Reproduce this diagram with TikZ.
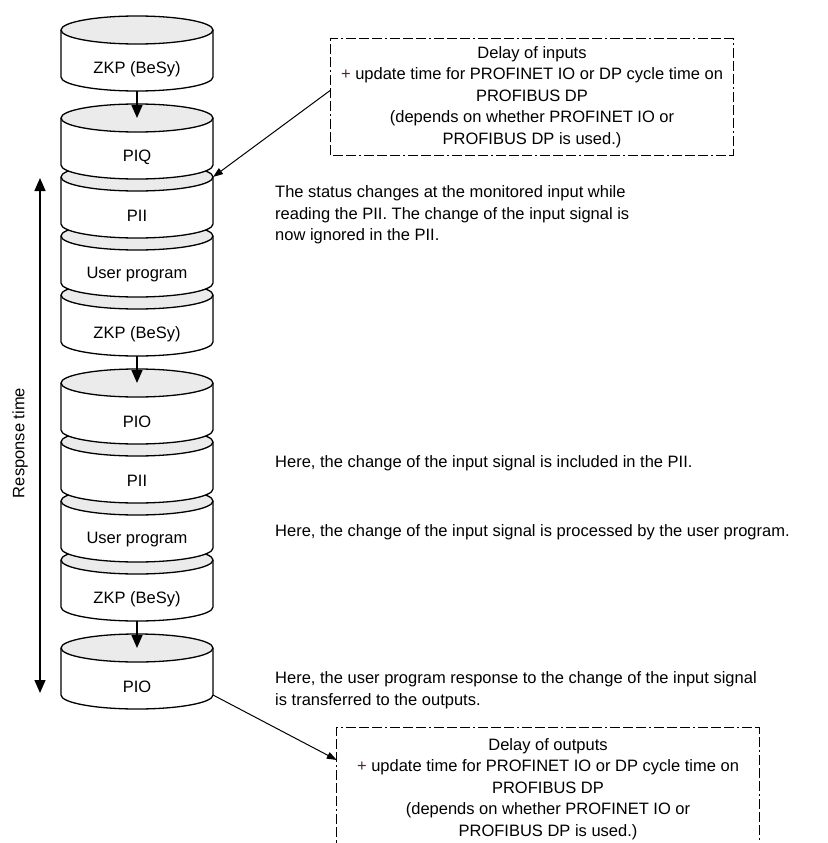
\documentclass[tikz,border=0pt]{standalone}
\usepackage{fontspec}
\setmainfont{Liberation Sans}
\usetikzlibrary{arrows.meta,calc}
\definecolor{topgray}{HTML}{EBEBEB}
\definecolor{plusc}{HTML}{5A1E46}
\newcommand\mycyl[3]{%
  \fill[white] (61,#2) -- (61,#2+47) arc[start angle=180,end angle=0,x radius=76,y radius=14] -- (213,#2) -- cycle;
  \draw[cylline] (61,#2) -- (61,#2+47) arc[start angle=180,end angle=0,x radius=76,y radius=14] -- (213,#2);
  \draw[cylline,fill=topgray] (137,#2) ellipse[x radius=76,y radius=14];
  \node[txt] (#1) at (137,#2+39) {#3};
  \coordinate (#1-t) at (137,#2);
  \coordinate (#1-b) at (137,#2+61);
  \coordinate (#1-tr) at (213,#2);
  \coordinate (#1-br) at (213,#2+47);
}
\begin{document}
\begin{tikzpicture}[x=1pt,y=-1pt,
  cylline/.style={line width=1.3pt},
  txt/.style={font=\fontsize{16.5}{21.5}\selectfont,inner sep=0pt},
  flow/.style={line width=1.4pt,-{Triangle[length=13pt,width=11pt]}},
  thin arrow/.style={line width=1pt,-{Triangle[length=10pt,width=7pt]}},
  dashbox/.style={line width=1.2pt,dash pattern=on 10pt off 3pt on 10pt off 3pt on 10pt off 3pt on 2pt off 3pt}]
\useasboundingbox (0,0) rectangle (827,843);
% cylinders, drawn from bottom to top so upper ones overlap lower ones
\mycyl{c10}{648}{PIO}
\mycyl{c9}{560}{ZKP (BeSy)}
\mycyl{c8}{501}{User program}
\mycyl{c7}{442}{PII}
\mycyl{c6}{383}{PIO}
\mycyl{c5}{295}{ZKP (BeSy)}
\mycyl{c4}{236}{User program}
\mycyl{c3}{177}{PII}
\mycyl{c2}{118}{PIQ}
\mycyl{c1}{30}{ZKP (BeSy)}
% arrows between cylinders
\draw[flow] (c1-b) -- (c2-t);
\draw[flow] (c5-b) -- (c6-t);
\draw[flow] (c9-b) -- (c10-t);
% response time
\coordinate (rtop) at (40,178);
\coordinate (rbot) at (40,693);
\draw[line width=1.4pt,{Triangle[length=13pt,width=11pt]}-{Triangle[length=13pt,width=11pt]}] (rtop) -- (rbot);
\node[txt,rotate=90] (rt) at (20,443) {Response time};
% boxes
\node[txt,align=center,minimum width=402pt,minimum height=116pt] (tb) at (532,97)
  {Delay of inputs\\{\color{plusc}+} update time for PROFINET IO or DP cycle time on\\PROFIBUS DP\\(depends on whether PROFINET IO or\\PROFIBUS DP is used.)};
\draw[dashbox] (tb.south west) rectangle (tb.north east);
\node[txt,align=center,minimum width=422pt,minimum height=122pt] (bb) at (548,789)
  {Delay of outputs\\{\color{plusc}+} update time for PROFINET IO or DP cycle time on\\PROFIBUS DP\\(depends on whether PROFINET IO or\\PROFIBUS DP is used.)};
\draw[dashbox] (bb.south west) |- (bb.north east) -- (bb.south east);
\draw[thin arrow] ([yshift=7pt]tb.west) -- (c3-tr);
\draw[thin arrow] (c10-br) -- ([yshift=29pt]bb.west);
% remarks
\node[txt,align=left,anchor=west] (n1) at (275,215)
  {The status changes at the monitored input while\\reading the PII. The change of the input signal is\\now ignored in the PII.};
\node[txt,anchor=west] (n2) at (275,463)
  {Here, the change of the input signal is included in the PII.};
\node[txt,anchor=west] (n3) at (275,532)
  {Here, the change of the input signal is processed by the user program.};
\node[txt,align=left,anchor=west] (n4) at (275,690)
  {Here, the user program response to the change of the input signal\\is transferred to the outputs.};
\end{tikzpicture}
\end{document}
